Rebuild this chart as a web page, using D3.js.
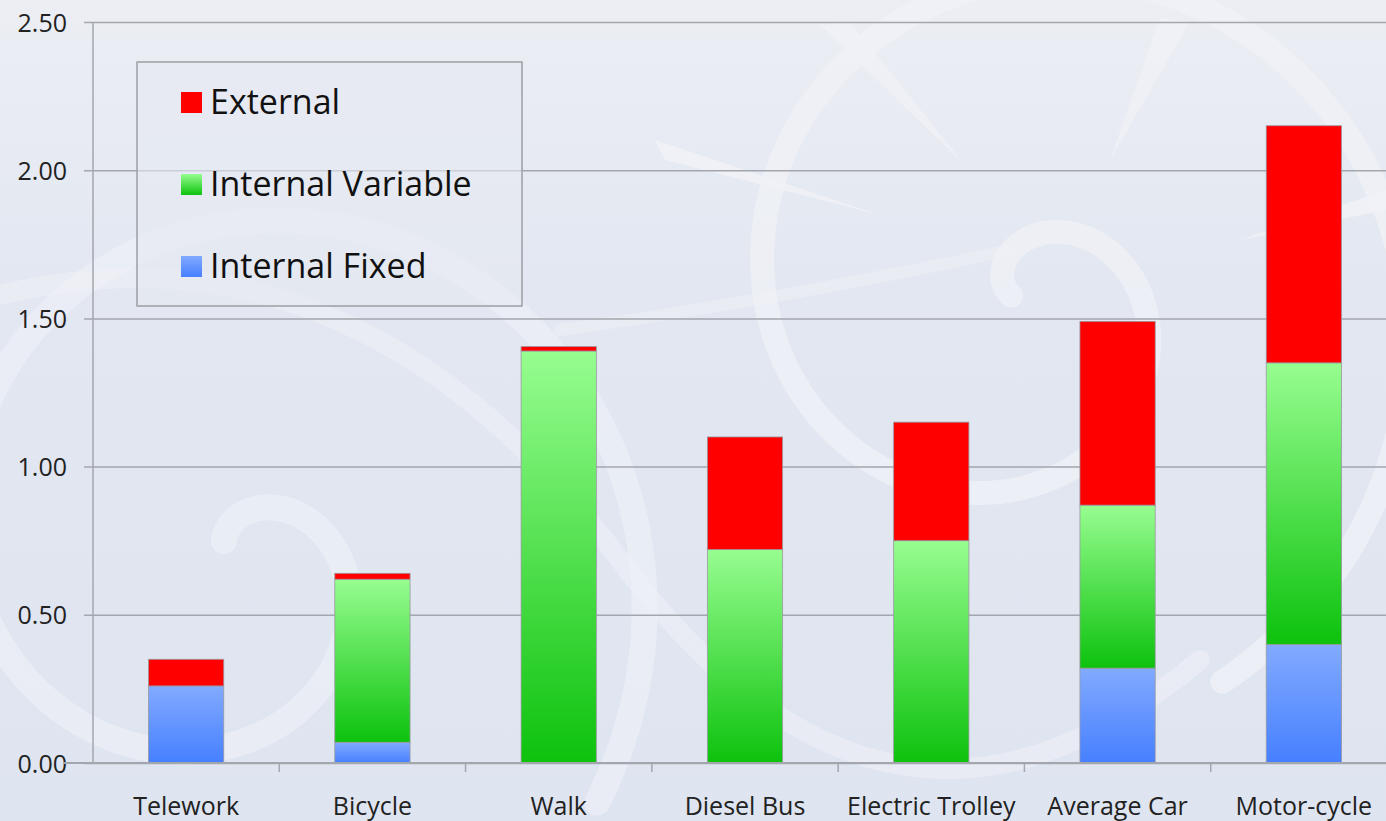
<!DOCTYPE html>
<html>
<head>
<meta charset="utf-8">
<script src="https://cdn.jsdelivr.net/npm/d3@7"></script>
<style>
  html, body { margin: 0; padding: 0; background: #e2e7f1; }
  svg { display: block; }
</style>
</head>
<body>
<svg id="chart" width="1386" height="821"></svg>
<script>
// Cost per mile by travel mode, stacked by cost type
const categories = ["Telework", "Bicycle", "Walk", "Diesel Bus", "Electric Trolley", "Average Car", "Motor-cycle"];
const internalFixed    = [0.26, 0.07, 0.00, 0.00, 0.00, 0.32, 0.40];
const internalVariable = [0.00, 0.55, 1.39, 0.72, 0.75, 0.55, 0.95];
const external         = [0.09, 0.02, 0.015, 0.38, 0.40, 0.62, 0.80];
const seriesNames = ["Internal Fixed", "Internal Variable", "External"];
const yTicks = [0, 0.5, 1.0, 1.5, 2.0, 2.5];

const W = 1386, H = 821;
const margin = { left: 93, top: 22, bottom: 58 };
const plotRight = 1397; // last category slot runs slightly past the edge
const svg = d3.select("#chart");
const defs = svg.append("defs");
const font = "'Open Sans', sans-serif";

// background wash
const bg = defs.append("linearGradient").attr("id", "bgGrad").attr("x1", 0).attr("y1", 0).attr("x2", 0).attr("y2", 1);
bg.append("stop").attr("offset", 0).attr("stop-color", "#eceef4");
bg.append("stop").attr("offset", 0.35).attr("stop-color", "#e2e7f1");
bg.append("stop").attr("offset", 1).attr("stop-color", "#dfe5f0");
svg.append("rect").attr("width", W).attr("height", H).attr("fill", "url(#bgGrad)");

// decorative swirls and rays behind the plot
const deco = svg.append("g").attr("fill", "none").attr("stroke", "#f1f2f7").attr("stroke-linecap", "round");
function spiral(cx, cy, r0, turns, growth, start) {
  const pts = [];
  for (let t = 0; t <= turns * 2 * Math.PI; t += 0.05) {
    const r = r0 + growth * t;
    pts.push([cx + r * Math.cos(t + start), cy + r * Math.sin(t + start)]);
  }
  return d3.line().curve(d3.curveBasis)(pts);
}
deco.append("path").attr("d", spiral(1020, 300, 10, 1.6, 42, 3.6)).attr("stroke-width", 24).attr("opacity", 0.7);
deco.append("path").attr("d", spiral(230, 560, 20, 1.4, 48, 4.4)).attr("stroke-width", 26).attr("opacity", 0.55);
deco.append("path").attr("d", "M -20 300 Q 350 200 620 560 T 1200 660").attr("stroke-width", 20).attr("opacity", 0.5);
deco.append("path").attr("d", "M 560 330 Q 780 300 1010 250").attr("stroke-width", 12).attr("opacity", 0.45);
const rays = svg.append("g").attr("fill", "#f1f2f7").attr("opacity", 0.8);
rays.append("path").attr("d", "M 820 25 L 850 22 L 965 165 Z");
rays.append("path").attr("d", "M 1160 18 L 1190 22 L 1110 160 Z");
rays.append("path").attr("d", "M 655 140 L 665 160 L 880 215 Z");
rays.append("path").attr("d", "M 1386 190 L 1386 210 L 1240 240 Z");

// gradients for the internal cost segments
function vGrad(id, top, bottom) {
  const g = defs.append("linearGradient").attr("id", id).attr("x1", 0).attr("y1", 0).attr("x2", 0).attr("y2", 1);
  g.append("stop").attr("offset", 0).attr("stop-color", top);
  g.append("stop").attr("offset", 1).attr("stop-color", bottom);
}
vGrad("gradFixed", "#82aaff", "#4680ff");
vGrad("gradVar", "#97fd90", "#0dc20d");
const fills = { "Internal Fixed": "url(#gradFixed)", "Internal Variable": "url(#gradVar)", "External": "#ff0000" };

const x = d3.scaleBand().domain(categories)
  .range([margin.left, plotRight])
  .paddingInner(0.596).paddingOuter(0.298);
const y = d3.scaleLinear().domain([0, 2.5]).range([H - margin.bottom, margin.top]);

// gridlines and y labels
const yAxis = svg.append("g").attr("transform", `translate(${margin.left},0)`)
  .call(d3.axisLeft(y).tickValues(yTicks).tickFormat(d3.format(".2f"))
    .tickSize(-(W - margin.left)).tickSizeOuter(0).tickPadding(0));
yAxis.select(".domain").remove();
yAxis.selectAll(".tick line").attr("stroke", "#a3a6ad").attr("stroke-width", 1.5).attr("x1", -9);
yAxis.selectAll(".tick text").attr("x", -26).attr("font-family", font)
  .attr("font-size", 25).attr("fill", "#222").attr("dy", "0.36em");
svg.append("line").attr("x1", margin.left).attr("x2", margin.left)
  .attr("y1", y(2.5)).attr("y2", y(0)).attr("stroke", "#a3a6ad").attr("stroke-width", 1.5);

// stacked bars
const table = categories.map((c, i) => ({
  cat: c, "Internal Fixed": internalFixed[i], "Internal Variable": internalVariable[i], "External": external[i]
}));
const stack = d3.stack().keys(seriesNames)(table);
svg.append("g").selectAll("g").data(stack).join("g")
  .attr("fill", d => fills[d.key])
  .selectAll("rect").data(d => d.filter(p => p[1] - p[0] > 0)).join("rect")
  .attr("x", d => x(d.data.cat))
  .attr("width", x.bandwidth())
  .attr("y", d => y(d[1]))
  .attr("height", d => y(d[0]) - y(d[1]))
  .attr("stroke", "#9a9aa0").attr("stroke-width", 0.8);

// x axis baseline with separators
const xBase = y(0);
svg.append("line").attr("x1", 63).attr("x2", W).attr("y1", xBase).attr("y2", xBase)
  .attr("stroke", "#a3a6ad").attr("stroke-width", 2);
const step = x.step();
svg.append("g").selectAll("line").data(categories.slice(1)).join("line")
  .attr("x1", d => x(d) - x.paddingInner() * step / 2).attr("x2", d => x(d) - x.paddingInner() * step / 2)
  .attr("y1", xBase).attr("y2", xBase + 9).attr("stroke", "#a3a6ad").attr("stroke-width", 1.5);
svg.append("g").selectAll("text").data(categories).join("text")
  .attr("x", d => x(d) + x.bandwidth() / 2).attr("y", 815)
  .attr("text-anchor", "middle").attr("font-family", font)
  .attr("font-size", 25).attr("fill", "#222").text(d => d);

// legend
const lg = svg.append("g");
lg.append("rect").attr("x", 137).attr("y", 62).attr("width", 385).attr("height", 244)
  .attr("fill", "#e6e9f2").attr("fill-opacity", 0.6).attr("stroke", "#9c9ea4").attr("stroke-width", 1.5);
const legendOrder = ["External", "Internal Variable", "Internal Fixed"];
legendOrder.forEach((name, i) => {
  const top = 92 + i * 82;
  lg.append("rect").attr("x", 181).attr("y", top).attr("width", 21).attr("height", 21).attr("fill", fills[name]);
  lg.append("text").attr("x", 210).attr("y", top + 22).attr("font-family", font)
    .attr("font-size", 34).attr("fill", "#111").text(name);
});
</script>
</body>
</html>
